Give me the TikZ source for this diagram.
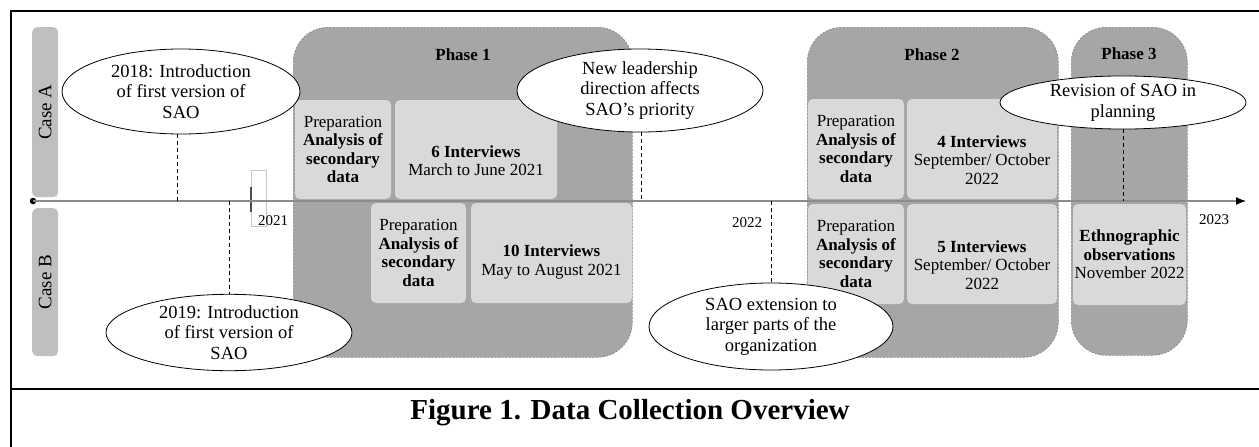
\documentclass[tikz,border=0pt]{standalone}
\usepackage{fontspec}
\setmainfont{Liberation Serif}
\usetikzlibrary{shapes.geometric,arrows.meta}
\definecolor{phasegray}{HTML}{A6A6A6}
\definecolor{boxgray}{HTML}{D9D9D9}
\definecolor{casegray}{HTML}{BFBFBF}
\definecolor{linegray}{HTML}{8C8C8C}
\definecolor{borderdash}{HTML}{7F7F7F}
\tikzset{
  phasebox/.style={draw=borderdash, line width=0.6pt, dash pattern=on 2pt off 1.5pt,
    fill=phasegray, rounded corners=35pt, inner sep=0pt, anchor=north west},
  inbox/.style={fill=boxgray, rounded corners=5pt, inner sep=0pt},
  boxtext/.style={align=center, inner sep=0pt, font=\fontsize{17}{18.5}\selectfont},
  evt/.style={ellipse, draw=black, fill=white, line width=0.8pt, inner sep=0pt,
    align=center, font=\fontsize{18.5}{20.5}\selectfont},
  casebar/.style={fill=casegray, rounded corners=5pt, inner sep=0pt, anchor=north west,
    minimum width=26pt},
  casetext/.style={rotate=90, font=\fontsize{19}{21}\selectfont},
  phasetitle/.style={font=\fontsize{17}{19}\selectfont\bfseries},
  yeartext/.style={font=\fontsize{15}{17}\selectfont, inner sep=0pt},
  evline/.style={black, line width=0.8pt, dash pattern=on 4pt off 3pt},
}
\begin{document}
\begin{tikzpicture}[x=1pt,y=-1pt]
\useasboundingbox (0,0) rectangle (1259,447);
\clip (0,0) rectangle (1259,447);
% frame
\draw[line width=2.5pt] (11,460) -- (11,11) -- (1270,11);
\draw[line width=2.5pt] (11,389) -- (1270,389);
\node[font=\fontsize{29}{31}\selectfont\bfseries] (caption) at (630,413) {Figure 1. Data Collection Overview};
% case bars
\node[casebar, minimum height=170pt] (caseA) at (32,27) {};
\node[casetext] at (caseA.center) {Case A};
\node[casebar, minimum height=148pt] (caseB) at (32,208) {};
\node[casetext] at (caseB.center) {Case B};
% phase boxes
\node[phasebox, minimum width=339pt, minimum height=330pt] (ph1) at (293,27) {};
\node[phasebox, minimum width=251pt, minimum height=330pt] (ph2) at (807,27) {};
\node[phasebox, minimum width=116pt, minimum height=328pt] (ph3) at (1071,27) {};
\node[phasetitle] (ph1t) at (463,55) {Phase 1};
\node[phasetitle] (ph2t) at (932,55) {Phase 2};
\node[phasetitle] (ph3t) at (1129,54) {Phase 3};
% inner boxes
\node[inbox, minimum width=96pt, minimum height=99pt] (p1aPrep) at (343,149.5) {};
\node[inbox, minimum width=162pt, minimum height=99pt] (p1aInt) at (476,149.5) {};
\node[inbox, minimum width=95pt, minimum height=100pt] (p1bPrep) at (418.5,253) {};
\node[inbox, minimum width=161pt, minimum height=100pt] (p1bInt) at (551.5,253) {};
\node[inbox, minimum width=96pt, minimum height=100pt] (p2aPrep) at (856,149) {};
\node[inbox, minimum width=150pt, minimum height=100pt] (p2aInt) at (982,149) {};
\node[inbox, minimum width=96pt, minimum height=100pt] (p2bPrep) at (856,254) {};
\node[inbox, minimum width=150pt, minimum height=100pt] (p2bInt) at (982,254) {};
\node[inbox, minimum width=113pt, minimum height=101pt] (p3b) at (1129.5,254.5) {};
% box texts
\node[boxtext] at (p1aPrep.center) {Preparation\\\textbf{Analysis of}\\\textbf{secondary}\\\textbf{data}};
\node[boxtext] at ([yshift=-11pt]p1aInt.center) {\textbf{6 Interviews}\\March to June 2021};
\node[boxtext] at (p1bPrep.center) {Preparation\\\textbf{Analysis of}\\\textbf{secondary}\\\textbf{data}};
\node[boxtext] at ([yshift=-9pt]p1bInt.center) {\textbf{10 Interviews}\\May to August 2021};
\node[boxtext] at (p2aPrep.center) {Preparation\\\textbf{Analysis of}\\\textbf{secondary}\\\textbf{data}};
\node[boxtext] at ([yshift=-11pt]p2aInt.center) {\textbf{4 Interviews}\\September/ October\\2022};
\node[boxtext] at (p2bPrep.center) {Preparation\\\textbf{Analysis of}\\\textbf{secondary}\\\textbf{data}};
\node[boxtext] at ([yshift=-11pt]p2bInt.center) {\textbf{5 Interviews}\\September/ October\\2022};
\node[boxtext] at (p3b.center) {\textbf{Ethnographic}\\\textbf{observations}\\November 2022};
% tick 2021
\node[draw=gray!45, fill=white, line width=0.5pt, minimum width=15pt, minimum height=56pt,
  inner sep=0pt, anchor=north west] (tick) at (251,170) {};
\draw[gray!60!black, line width=1.5pt] ([yshift=-17pt]tick.north west) -- ([yshift=-42pt]tick.north west);
% timeline
\node[circle, fill=black, inner sep=0pt, minimum size=6.5pt] (tstart) at (33,201) {};
\coordinate (tend) at (1246,201);
\draw[linegray, line width=1.3pt, -{Latex[length=10pt,width=8pt,color=black]}] (tstart.center) -- (tend);
\node[yeartext] (y2021) at (273,221) {2021};
\node[yeartext] (y2022) at (747,223) {2022};
\node[yeartext] (y2023) at (1214,220) {2023};
% events
\coordinate (t2018) at (177,201);
\coordinate (t2019) at (229,201);
\coordinate (tlead) at (641,201);
\coordinate (t2022) at (771,201);
\coordinate (trev) at (1123,201);
\node[evt, minimum width=238pt, minimum height=85pt] (e2018) at (181,91.5)
  {2018: Introduction\\of first version of\\SAO};
\node[evt, minimum width=246pt, minimum height=71pt] (e2019) at (229,332.5)
  {2019: Introduction\\of first version of\\SAO};
\node[evt, minimum width=246pt, minimum height=83pt] (elead) at (640,90.5)
  {New leadership\\direction affects\\SAO’s priority};
\node[evt, minimum width=244pt, minimum height=87pt] (eext) at (771,326.5)
  {SAO extension to\\larger parts of the\\organization};
\node[evt, minimum width=246pt, minimum height=53pt] (erev) at (1123,102.5)
  {Revision of SAO in\\planning};
\draw[evline] (t2018 |- e2018.south) -- (t2018);
\draw[evline] (t2019) -- (e2019.north);
\draw[evline] (tlead |- elead.south) -- (tlead);
\draw[evline] (t2022) -- (eext.north);
\draw[evline] (erev.south) -- (trev);
\end{tikzpicture}
\end{document}
